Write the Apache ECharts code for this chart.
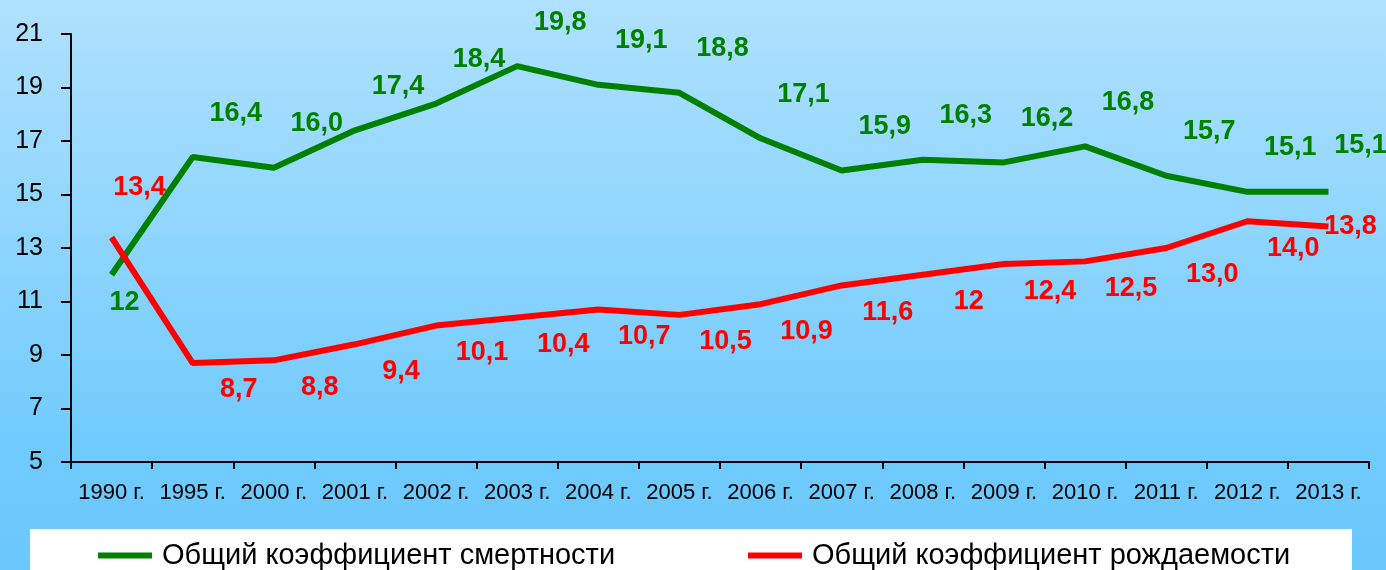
<!DOCTYPE html>
<html>
<head>
<meta charset="utf-8">
<script src="https://cdn.jsdelivr.net/npm/echarts@6/dist/echarts.min.js"></script>
<style>
html,body{margin:0;padding:0;}
#chart{width:1386px;height:570px;}
</style>
</head>
<body>
<div id="chart"></div>
<script>
var categories = ['1990 г.','1995 г.','2000 г.','2001 г.','2002 г.','2003 г.','2004 г.','2005 г.','2006 г.','2007 г.','2008 г.','2009 г.','2010 г.','2011 г.','2012 г.','2013 г.'];
var deathRate = [12, 16.4, 16.0, 17.4, 18.4, 19.8, 19.1, 18.8, 17.1, 15.9, 16.3, 16.2, 16.8, 15.7, 15.1, 15.1];
var deathLabels = ['12','16,4','16,0','17,4','18,4','19,8','19,1','18,8','17,1','15,9','16,3','16,2','16,8','15,7','15,1','15,1'];
var birthRate = [13.4, 8.7, 8.8, 9.4, 10.1, 10.4, 10.7, 10.5, 10.9, 11.6, 12, 12.4, 12.5, 13.0, 14.0, 13.8];
var birthLabels = ['13,4','8,7','8,8','9,4','10,1','10,4','10,7','10,5','10,9','11,6','12','12,4','12,5','13,0','14,0','13,8'];
var yTicks = [5, 7, 9, 11, 13, 15, 17, 19, 21];
var seriesNames = ['Общий коэффициент смертности', 'Общий коэффициент рождаемости'];

var FONT = "'Liberation Sans', Arial, sans-serif";
var GREEN = '#008000', RED = '#ff0000';

function buildData(values, labels, baseOffset, overrides) {
  return values.map(function (v, i) {
    var off = overrides[i] || baseOffset;
    return { value: v, label: { formatter: labels[i], offset: off } };
  });
}

var chart = echarts.init(document.getElementById('chart'));
var option = {
  backgroundColor: {
    type: 'linear', x: 0, y: 0, x2: 0, y2: 1,
    colorStops: [
      { offset: 0, color: '#b0e1fd' },
      { offset: 0.8, color: '#6fcafd' },
      { offset: 1, color: '#6bc8fc' }
    ]
  },
  animation: false,
  graphic: [{
    type: 'rect', z: 1,
    shape: { x: 30, y: 529, width: 1322, height: 60 },
    style: { fill: '#ffffff' }
  }],
  grid: { left: 71, right: 17, top: 34, bottom: 108, containLabel: false },
  xAxis: {
    type: 'category',
    data: categories,
    boundaryGap: true,
    axisLine: { lineStyle: { color: '#000', width: 2 } },
    axisTick: { show: true, length: 7, lineStyle: { color: '#000', width: 2 } },
    axisLabel: { color: '#000', fontSize: 22, fontFamily: FONT, margin: 20, interval: 0 }
  },
  yAxis: {
    type: 'value',
    min: 5, max: 21,
    splitLine: { show: false },
    axisLine: { show: true, lineStyle: { color: '#000', width: 2 } },
    axisTick: { show: true, length: 10, lineStyle: { color: '#000', width: 2 }, customValues: yTicks },
    axisLabel: { color: '#000', fontSize: 25, fontFamily: FONT, margin: 28, customValues: yTicks }
  },
  legend: [
    {
      data: [seriesNames[0]], left: 98, top: 541, padding: 0,
      icon: 'rect', itemWidth: 54, itemHeight: 6,
      textStyle: { color: '#000', fontSize: 29, fontFamily: FONT, padding: [0, 0, 0, 5] }
    },
    {
      data: [seriesNames[1]], left: 748, top: 541, padding: 0,
      icon: 'rect', itemWidth: 54, itemHeight: 6,
      textStyle: { color: '#000', fontSize: 29, fontFamily: FONT, padding: [0, 0, 0, 5] }
    }
  ],
  series: [
    {
      name: seriesNames[0],
      type: 'line',
      data: buildData(deathRate, deathLabels, [43, -44], { 0: [13, 28], 15: [32, -46] }),
      symbol: 'circle', symbolSize: 0, showSymbol: true,
      itemStyle: { color: GREEN },
      lineStyle: { color: GREEN, width: 6 },
      label: { show: true, position: 'inside', color: GREEN, fontSize: 27, fontWeight: 'bold', fontFamily: FONT },
      z: 2
    },
    {
      name: seriesNames[1],
      type: 'line',
      data: buildData(birthRate, birthLabels, [46, 27], { 0: [28, -50], 15: [22, 0] }),
      symbol: 'circle', symbolSize: 0, showSymbol: true,
      itemStyle: { color: RED },
      lineStyle: { color: RED, width: 6 },
      label: { show: true, position: 'inside', color: RED, fontSize: 27, fontWeight: 'bold', fontFamily: FONT },
      z: 3
    }
  ]
};
chart.setOption(option);
</script>
</body>
</html>
